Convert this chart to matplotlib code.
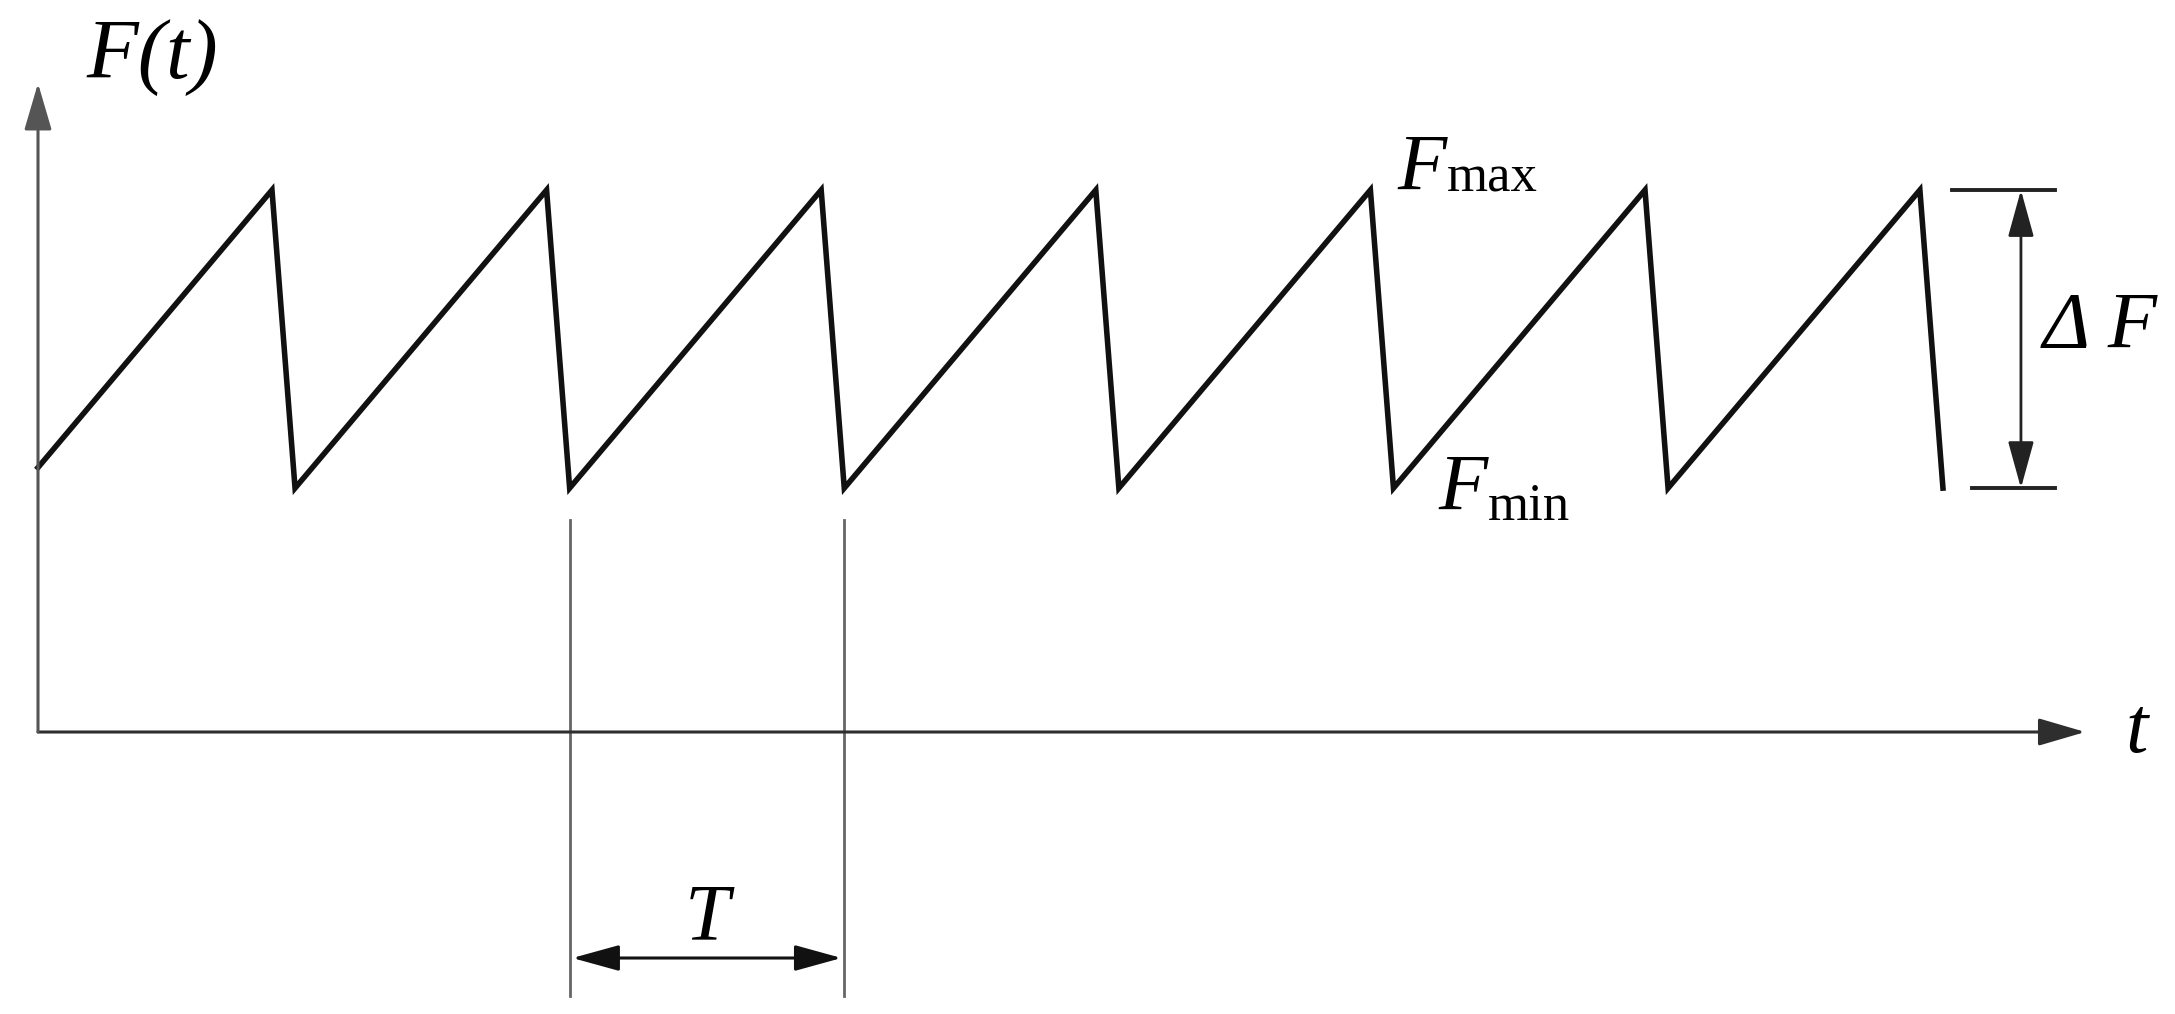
import matplotlib.pyplot as plt

# sawtooth corner points (time in units of period T, force relative to F_max)
t_points = [0.0, 0.852, 0.936, 1.852, 1.936, 2.852, 2.936, 3.852, 3.936,
            4.852, 4.936, 5.852, 5.936, 6.853, 6.937]
f_points = [0.488, 1.0, 0.45, 1.0, 0.45, 1.0, 0.45, 1.0, 0.45,
            1.0, 0.45, 1.0, 0.45, 1.0, 0.45]
f_max = 1.0
f_min = 0.45
period_marks = [1.936, 2.936]   # the two minima that bound T

font = 'Liberation Serif'
big = 58
small = 38

fig = plt.figure(figsize=(21.75, 10.14), dpi=100)
ax = fig.add_axes([0, 0, 1, 1])
ax.set_xlim(-0.1384, 7.782)
ax.set_ylim(-0.5203, 1.3506)
ax.axis('off')

head = '-|>,head_length=29,head_width=8.5'
dhead = '<|-|>,head_length=29,head_width=8'

# axes with arrows
ax.annotate('', xy=(7.455, 0), xytext=(0, 0),
            arrowprops=dict(arrowstyle=head, color='#2e2e2e', lw=2.2,
                            mutation_scale=1, shrinkA=0, shrinkB=0))
ax.annotate('', xy=(0, 1.197), xytext=(0, 0),
            arrowprops=dict(arrowstyle=head, color='#555555', lw=2.2,
                            mutation_scale=1, shrinkA=0, shrinkB=0))

# the signal
ax.plot(t_points, f_points, color='#111111', lw=4.0, solid_joinstyle='miter')

# period marks
for tm in period_marks:
    ax.plot([tm, tm], [0.391, -0.487], color='#666666', lw=2)
ax.annotate('', xy=(period_marks[1] - 0.01, -0.417), xytext=(period_marks[0] + 0.01, -0.417),
            arrowprops=dict(arrowstyle=dhead, color='#111111', lw=2.2,
                            mutation_scale=1, shrinkA=0, shrinkB=0))
ax.text(sum(period_marks) / 2, -0.382, 'T', family=font, style='italic',
        fontsize=big, ha='center', va='baseline')

# delta F bracket
ax.plot([6.970, 7.345], [f_max, f_max], color='#222222', lw=2.8)
ax.plot([7.043, 7.345], [f_min, f_min], color='#222222', lw=2.8)
ax.annotate('', xy=(7.221, f_min), xytext=(7.221, f_max),
            arrowprops=dict(arrowstyle=dhead, color='#222222', lw=2,
                            mutation_scale=1, shrinkA=0, shrinkB=0))
ax.text(7.30, 0.745, '\u0394 F', family=font, style='italic',
        fontsize=big, ha='left', va='center')

# labels
ax.text(0.175, 1.244, 'F(t)', family=font, style='italic',
        fontsize=61, ha='left', va='center')
ax.text(7.60, 0.0, 't', family=font, style='italic',
        fontsize=big, ha='left', va='center')
ax.text(4.949, 1.0, 'F', family=font, style='italic',
        fontsize=big, ha='left', va='baseline')
ax.text(5.131, 0.997, 'max', family=font, fontsize=small, ha='left', va='baseline')
ax.text(5.098, 0.41, 'F', family=font, style='italic',
        fontsize=big, ha='left', va='baseline')
ax.text(5.28, 0.391, 'min', family=font, fontsize=small, ha='left', va='baseline')

plt.savefig('out.png', dpi=100)
